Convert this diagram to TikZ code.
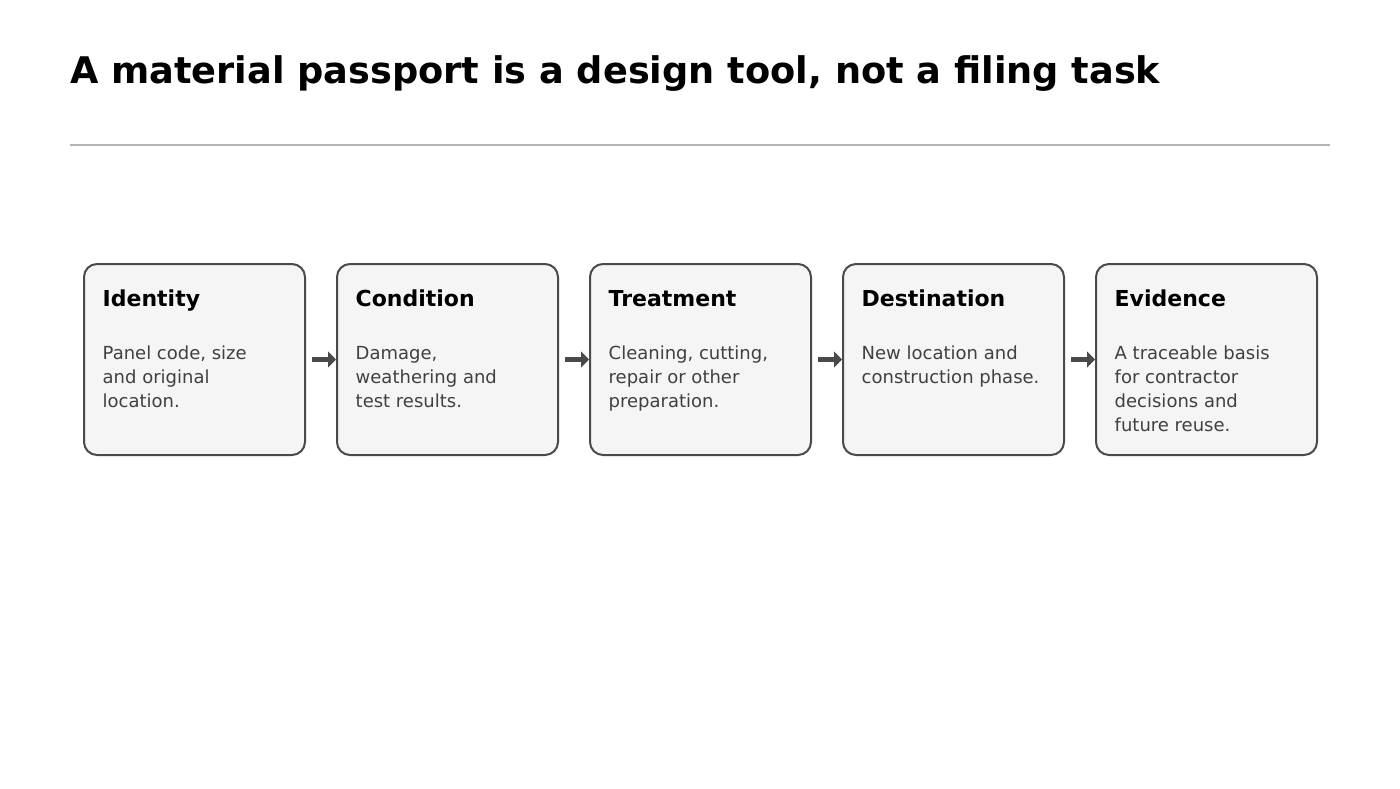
\documentclass[tikz,border=0pt]{standalone}
\usepackage{fontspec}
\setmainfont{DejaVu Sans}
\usetikzlibrary{arrows.meta}
\definecolor{boxline}{HTML}{4A4A4A}
\definecolor{boxfill}{HTML}{F5F5F5}
\definecolor{bodytext}{HTML}{404040}
\definecolor{rulegrey}{HTML}{B4B4B4}
\tikzstyle{stage}=[shape=rectangle,rounded corners=13pt,draw=boxline,line width=2pt,fill=boxfill,minimum width=221pt,minimum height=191pt,inner sep=0pt]
\tikzstyle{heading}=[anchor=base west,inner sep=0pt,font=\fontsize{22}{26}\selectfont\bfseries,text=black]
\tikzstyle{body}=[anchor=north west,inner sep=0pt,align=left,font=\fontsize{18}{24}\selectfont,text=bodytext]
\tikzstyle{flow}=[-{Triangle[length=8pt,width=16pt]},line width=4.5pt,draw=boxline,shorten <=6pt]

\begin{document}
\begin{tikzpicture}[x=1pt,y=-1pt]

		\useasboundingbox (0,0) rectangle (1400,788);

		% title
		\node[anchor=base west,inner sep=0pt,font=\fontsize{36.7}{44}\selectfont\bfseries] (title) at (70,83) {A material passport is a design tool, not a filing task};
		\coordinate (ruleL) at (70,145);
		\coordinate (ruleR) at (1330,145);
		\draw[rulegrey,line width=1.5pt] (ruleL) -- (ruleR);

		% stages
		\node[stage] (ident) at (194.5,359.5) {};
		\node[stage] (cond) at (447.5,359.5) {};
		\node[stage] (treat) at (700.5,359.5) {};
		\node[stage] (dest) at (953.5,359.5) {};
		\node[stage] (evid) at (1206.5,359.5) {};

		% texts (body: strut top = first baseline - 16.8)
		\node[heading] (ident-h) at (102.5,306) {Identity};
		\node[body] (ident-b) at (102.5,342.2) {\strut Panel code, size\\and original\\location.};
		\node[heading] (cond-h) at (355.5,306) {Condition};
		\node[body] (cond-b) at (355.5,342.2) {\strut Damage,\\weathering and\\test results.};
		\node[heading] (treat-h) at (608.5,306) {Treatment};
		\node[body] (treat-b) at (608.5,342.2) {\strut Cleaning, cutting,\\repair or other\\preparation.};
		\node[heading] (dest-h) at (861.5,306) {Destination};
		\node[body] (dest-b) at (861.5,342.2) {\strut New location and\\construction phase.};
		\node[heading] (evid-h) at (1114.5,306) {Evidence};
		\node[body] (evid-b) at (1114.5,342.2) {\strut A traceable basis\\for contractor\\decisions and\\future reuse.};

		% arrows
		\draw[flow] (ident) -- (cond);
		\draw[flow] (cond) -- (treat);
		\draw[flow] (treat) -- (dest);
		\draw[flow] (dest) -- (evid);

\end{tikzpicture}
\end{document}
